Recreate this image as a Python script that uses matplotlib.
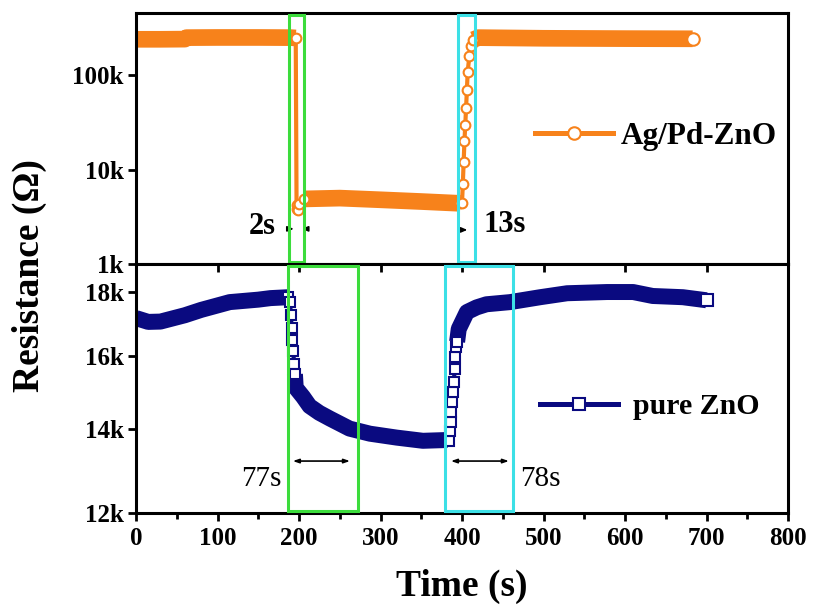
import matplotlib
matplotlib.use("Agg")
import matplotlib.pyplot as plt
from matplotlib.lines import Line2D
from matplotlib.patches import Rectangle
from matplotlib.ticker import FixedLocator, FixedFormatter, NullLocator
import numpy as np

# Ag/Pd-ZnO response (time in s, resistance in ohm)
agpd_t = [0, 30, 60, 62, 100, 150, 190, 196,
          197, 198, 199, 200,
          206, 250, 300, 350, 398,
          400, 401, 402, 403, 404, 405, 406, 407, 409, 411,
          414, 420, 500, 600, 683]
agpd_r = [242e3, 242e3, 243e3, 252e3, 253e3, 253e3, 252e3, 250e3,
          4.2e3, 3.8e3, 3.7e3, 4.3e3,
          4.9e3, 5.0e3, 4.8e3, 4.6e3, 4.4e3,
          4.4e3, 7e3, 12e3, 20e3, 30e3, 45e3, 70e3, 110e3, 160e3, 205e3,
          240e3, 252e3, 248e3, 246e3, 245e3]
agpd_drop = (7, 13)
agpd_rise = (16, 28)

# pure ZnO response
zno_t = [0, 15, 30, 60, 80, 115, 150, 165, 187,
         189, 190, 191, 192, 193, 194, 195,
         196, 205, 213, 225, 238, 262, 287, 320, 352, 382,
         384, 385, 386, 387, 388, 389, 390, 391, 392, 393, 394,
         396, 406, 418, 430, 459, 496, 529, 578, 610, 634, 671, 700]
zno_r = [17.16e3, 17.04e3, 17.05e3, 17.25e3, 17.42e3, 17.67e3, 17.75e3, 17.8e3, 17.83e3,
         17.67e3, 17.26e3, 16.85e3, 16.48e3, 16.14e3, 15.76e3, 15.48e3,
         15.1e3, 14.85e3, 14.6e3, 14.42e3, 14.27e3, 14.01e3, 13.88e3, 13.78e3, 13.70e3, 13.72e3,
         13.70e3, 13.95e3, 14.18e3, 14.45e3, 14.71e3, 14.99e3, 15.26e3, 15.63e3, 15.98e3, 16.28e3, 16.43e3,
         16.82e3, 17.35e3, 17.5e3, 17.6e3, 17.67e3, 17.83e3, 17.96e3, 18.0e3, 18.0e3, 17.87e3, 17.83e3, 17.73e3]
zno_drop = (8, 16)
zno_rise = (25, 37)

top_ticks = [1e3, 1e4, 1e5]
top_labels = ["1k", "10k", "100k"]
bot_ticks = [12e3, 14e3, 16e3, 18e3]
bot_labels = ["12k", "14k", "16k", "18k"]
x_ticks = [0, 100, 200, 300, 400, 500, 600, 700, 800]

ORANGE = "#F7821B"
NAVY = "#0A0A80"
GREEN = "#3CDC3C"
CYAN = "#3CE0E6"

plt.rcParams["font.family"] = ["Liberation Serif", "DejaVu Serif"]
plt.rcParams["font.weight"] = "bold"
plt.rcParams["axes.labelweight"] = "bold"


def draw_series(ax, t, r, drop, rise, color, marker, band):
    t = np.asarray(t)
    r = np.asarray(r)
    # thick band for the dense flat parts
    for a, b in [(0, drop[0] + 1), (drop[1] - 1, rise[0] + 1), (rise[1] - 1, len(t))]:
        ax.plot(t[a:b], r[a:b], color=color, lw=band, solid_capstyle="butt",
                solid_joinstyle="round", zorder=2)
    # transitions show the open markers
    for a, b in [drop, rise]:
        ax.plot(t[a:b], r[a:b], color=color, lw=3, marker=marker, ms=7,
                mfc="white", mec=color, mew=1.5, zorder=3)
    ax.plot(t[-1:], r[-1:], ls="none", marker=marker, ms=9, mfc="white",
            mec=color, mew=1.5, zorder=4)


def style_axis(ax, ticks, labels, ylim):
    ax.set_yscale("log")
    ax.set_ylim(*ylim)
    ax.set_xlim(0, 800)
    ax.yaxis.set_major_locator(FixedLocator(ticks))
    ax.yaxis.set_major_formatter(FixedFormatter(labels))
    ax.yaxis.set_minor_locator(NullLocator())
    for s in ax.spines.values():
        s.set_linewidth(2.2)
    ax.tick_params(axis="y", which="major", direction="out", length=6, width=2,
                   labelsize=18, pad=3)


def add_box(ax, x0, x1, color):
    tr = ax.get_xaxis_transform()
    ax.add_patch(Rectangle((x0, 0.008), x1 - x0, 0.984, transform=tr, fill=False,
                           ec=color, lw=2.2, zorder=5, clip_on=False))


fig = plt.figure(figsize=(8.21, 6.13), dpi=100)
ax1 = fig.add_axes([136 / 821, 1 - 264 / 613, 652 / 821, 251 / 613])
ax2 = fig.add_axes([136 / 821, 1 - 513 / 613, 652 / 821, 249 / 613])

# upper panel
draw_series(ax1, agpd_t, agpd_r, agpd_drop, agpd_rise, ORANGE, "o", 12)
style_axis(ax1, top_ticks, top_labels, (1e3, 4.6e5))
ax1.tick_params(axis="x", which="both", bottom=False, labelbottom=False)
add_box(ax1, 188, 206, GREEN)
add_box(ax1, 395, 416, CYAN)
arr = dict(arrowstyle="-|>,head_length=0.35,head_width=0.15", color="black", lw=1.2)
ax1.annotate("", xy=(197, 2.36e3), xytext=(184, 2.36e3), arrowprops=arr)
ax1.annotate("", xy=(200, 2.36e3), xytext=(213, 2.36e3), arrowprops=arr)
ax1.annotate("", xy=(410, 2.3e3), xytext=(394, 2.3e3), arrowprops=arr)
ax1.text(172, 2.5e3, "2s", fontsize=22, ha="right", va="center")
ax1.text(426, 2.6e3, "13s", fontsize=22, ha="left", va="center")
ax1.legend(handles=[Line2D([], [], color=ORANGE, lw=3.6, marker="o", ms=9,
                           mfc="white", mec=ORANGE, mew=1.5)],
           labels=["Ag/Pd-ZnO"], loc="center left", bbox_to_anchor=(0.612, 0.508),
           frameon=False, fontsize=22.5, handlelength=2.5, handletextpad=0.25,
           borderpad=0, borderaxespad=0)

# lower panel
draw_series(ax2, zno_t, zno_r, zno_drop, zno_rise, NAVY, "s", 11.5)
style_axis(ax2, bot_ticks, bot_labels, (12e3, 1.895e4))
ax2.set_xticks(x_ticks)
ax2.set_xticks(np.arange(50, 800, 100), minor=True)
ax2.tick_params(axis="x", which="major", direction="out", length=6, width=2,
                labelsize=18, pad=4)
ax2.tick_params(axis="x", which="minor", direction="out", length=4, width=2)
ax2.secondary_xaxis("top").tick_params(direction="in", length=6, width=2,
                                      labeltop=False)
add_box(ax2, 186, 272, GREEN)
add_box(ax2, 379, 463, CYAN)
arr2 = dict(arrowstyle="<|-|>,head_length=0.35,head_width=0.12", color="black", lw=1.2)
ax2.annotate("", xy=(266, 13.2e3), xytext=(189, 13.2e3), arrowprops=arr2)
ax2.annotate("", xy=(461, 13.2e3), xytext=(383, 13.2e3), arrowprops=arr2)
ax2.text(178, 12.78e3, "77s", fontsize=21, fontweight="normal", ha="right", va="center")
ax2.text(471, 12.78e3, "78s", fontsize=21, fontweight="normal", ha="left", va="center")
ax2.legend(handles=[Line2D([], [], color=NAVY, lw=3.6, marker="s", ms=8,
                           mfc="white", mec=NAVY, mew=1.5)],
           labels=["pure ZnO"], loc="center left", bbox_to_anchor=(0.62, 0.427),
           frameon=False, fontsize=21.5, handlelength=2.6, handletextpad=0.5,
           borderpad=0, borderaxespad=0)
ax2.set_xlabel("Time (s)", fontsize=27, labelpad=14)

fig.text(0.036, 0.55, "Resistance (\u03a9)", rotation=90, fontsize=27,
         ha="center", va="center")

fig.savefig("out.png", dpi=100)
